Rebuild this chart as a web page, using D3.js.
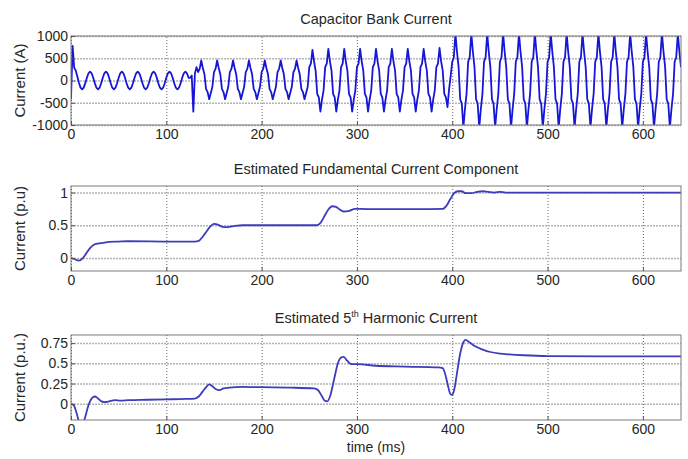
<!DOCTYPE html>
<html><head><meta charset="utf-8">
<script src="https://cdn.jsdelivr.net/npm/d3@7"></script>
<style>
html,body{margin:0;padding:0;background:#fff;}
svg text{font-family:"Liberation Sans",Arial,Helvetica,sans-serif;fill:#262626;}
</style></head><body>
<svg id="chart" width="688" height="459"></svg>
<script>
// ---------------- data ----------------
const xTicks = [0, 100, 200, 300, 400, 500, 600];
const capTicks = [-1000, -500, 0, 500, 1000];
const fundTicks = [0, 0.5, 1];
const harmTicks = [0, 0.25, 0.5, 0.75];

// capacitor bank current (A), one sample every 1/600 s (10 samples per 60 Hz cycle)
const capSampleMs = 1000 / 600;
const capCurrent = [
  -420,780,290,220,90,-50,-160,-200,-160,-60,
  62,162,200,162,62,-62,-162,-200,-162,-62,
  62,162,200,162,62,-62,-162,-200,-162,-62,
  62,162,200,162,62,-62,-162,-200,-162,-62,
  62,162,200,162,62,-62,-162,-200,-162,-62,
  62,162,200,162,62,-62,-162,-200,-162,-62,
  62,162,200,162,62,-62,-162,-200,-162,-62,
  62,162,200,162,62,60,110,-700,160,300,
  190,260,450,280,140,-190,-260,-420,-280,-140,
  190,260,450,280,140,-190,-260,-420,-280,-140,
  190,260,450,280,140,-190,-260,-420,-280,-140,
  190,260,450,280,140,-190,-260,-420,-280,-140,
  190,260,450,280,140,-190,-260,-420,-280,-140,
  190,260,450,280,140,-190,-260,-420,-280,-140,
  190,260,450,280,140,-190,-260,-420,-280,-140,
  300,380,690,430,220,-300,-380,-700,-430,-220,
  300,380,710,430,220,-300,-380,-700,-430,-220,
  300,380,710,430,220,-300,-380,-700,-430,-220,
  300,380,710,430,220,-300,-380,-700,-430,-220,
  300,380,710,430,220,-300,-380,-700,-430,-220,
  300,380,710,430,220,-300,-380,-700,-430,-220,
  300,380,710,430,220,-300,-380,-700,-430,-220,
  300,380,710,430,220,-300,-380,-700,-430,-220,
  300,380,730,430,220,-300,-380,-600,-200,100,
  420,520,1060,640,300,-420,-520,-1060,-640,-300,
  420,520,1060,640,300,-420,-520,-1060,-640,-300,
  420,520,1060,640,300,-420,-520,-1060,-640,-300,
  420,520,1060,640,300,-420,-520,-1060,-640,-300,
  420,520,1060,640,300,-420,-520,-1060,-640,-300,
  420,520,1060,640,300,-420,-520,-1060,-640,-300,
  420,520,1060,640,300,-420,-520,-1060,-640,-300,
  420,520,1060,640,300,-420,-520,-1060,-640,-300,
  420,520,1060,640,300,-420,-520,-1060,-640,-300,
  420,520,1060,640,300,-420,-520,-1060,-640,-300,
  420,520,1060,640,300,-420,-520,-1060,-640,-300,
  420,520,1060,640,300,-420,-520,-1060,-640,-300,
  420,520,1060,640,300,-420,-520,-1060,-640,-300,
  420,520,1060,640,300,-420,-520,-1060,-640,-300,
  420,520,1060,640,300
];

// estimated fundamental current component (p.u.)
const fundTime = [0,4,8,12,16,20,24,28,34,40,50,60,100,130,134,138,142,146,150,154,
  158,164,172,180,220,258,262,266,270,274,278,282,286,292,298,304,320,360,390,394,
  398,402,406,410,414,420,426,432,438,444,450,456,500,560,640];
const fundValue = [0,-0.02,-0.04,-0.01,0.07,0.15,0.2,0.22,0.23,0.245,0.25,0.255,0.25,0.25,0.26,0.32,0.4,0.48,0.52,0.51,
  0.48,0.47,0.49,0.5,0.5,0.5,0.54,0.64,0.74,0.79,0.78,0.74,0.71,0.72,0.75,0.75,0.745,0.745,0.75,0.8,
  0.9,0.99,1.02,1.02,0.99,0.99,1.01,1.02,1.01,1.0,1.01,1.0,1.0,1.0,1.0];

// estimated 5th harmonic current (p.u.)
const harmTime = [0,3,6,9,12,15,18,22,25,28,32,36,40,46,52,60,80,100,120,130,
  134,138,142,145,148,152,156,160,166,180,200,230,255,259,263,266,269,272,276,280,
  283,286,290,294,300,320,350,385,390,393,396,398,400,402,405,408,411,414,418,424,
  432,440,450,460,475,500,560,640];
const harmValue = [0,-0.02,-0.12,-0.24,-0.26,-0.16,-0.03,0.07,0.09,0.07,0.03,0.02,0.03,0.045,0.04,0.045,0.05,0.055,0.06,0.065,
  0.09,0.15,0.21,0.24,0.22,0.18,0.17,0.19,0.2,0.21,0.205,0.2,0.19,0.17,0.1,0.04,0.03,0.1,0.3,0.5,
  0.57,0.58,0.53,0.49,0.49,0.47,0.46,0.45,0.44,0.35,0.2,0.12,0.11,0.17,0.38,0.6,0.74,0.79,0.76,0.71,
  0.67,0.64,0.62,0.61,0.6,0.59,0.585,0.585];

// ---------------- drawing ----------------
const svg = d3.select('#chart');
const left = 71, right = 681;
const x = d3.scaleLinear().domain([0, 640]).range([left, right]);

function panel(opt) {
  const y = d3.scaleLinear().domain(opt.yDomain).range([opt.bottom, opt.top]);
  const g = svg.append('g');
  const clipId = 'clip' + opt.id;
  g.append('clipPath').attr('id', clipId).append('rect')
    .attr('x', left).attr('y', opt.top).attr('width', right - left).attr('height', opt.bottom - opt.top);

  // grid
  const gx = g.append('g').attr('transform', `translate(0,${opt.bottom})`)
    .call(d3.axisBottom(x).tickValues(xTicks).tickSize(-(opt.bottom - opt.top)).tickFormat(''));
  const gy = g.append('g').attr('transform', `translate(${left},0)`)
    .call(d3.axisLeft(y).tickValues(opt.yTicks).tickSize(-(right - left)).tickFormat(''));
  gx.select('.domain').remove();
  gy.select('.domain').remove();
  gx.selectAll('line').attr('stroke', '#666').attr('stroke-dasharray', '1,2').attr('stroke-width', 1);
  gy.selectAll('line').attr('stroke', '#b4b4b4').attr('stroke-dasharray', '2,1').attr('stroke-width', 1.5);

  // data line
  g.append('path').attr('clip-path', `url(#${clipId})`)
    .datum(opt.data)
    .attr('fill', 'none')
    .attr('stroke', opt.color)
    .attr('stroke-width', opt.width)
    .attr('stroke-linejoin', 'round')
    .attr('d', d3.line().x(d => x(d[0])).y(d => y(d[1])).curve(opt.curve));

  // box
  g.append('rect').attr('x', left).attr('y', opt.top).attr('width', right - left).attr('height', opt.bottom - opt.top)
    .attr('fill', 'none').attr('stroke', '#7a7a7a').attr('stroke-width', 1);

  // tick labels
  const ax = g.append('g').attr('transform', `translate(0,${opt.bottom})`)
    .call(d3.axisBottom(x).tickValues(xTicks).tickSizeInner(-4).tickSizeOuter(0).tickPadding(4).tickFormat(d => String(d)));
  const ay = g.append('g').attr('transform', `translate(${left},0)`)
    .call(d3.axisLeft(y).tickValues(opt.yTicks).tickSizeInner(-4).tickSizeOuter(0).tickPadding(3).tickFormat(d => String(d)));
  [ax, ay].forEach(s => {
    s.select('.domain').remove();
    s.selectAll('line').attr('stroke', '#555');
    s.selectAll('text').attr('font-size', 14).attr('fill', '#262626')
      .attr('font-family', '"Liberation Sans",Arial,Helvetica,sans-serif');
  });

  // title
  const t = svg.append('text').attr('x', (left + right) / 2).attr('y', opt.top - 12)
    .attr('text-anchor', 'middle').attr('font-size', 14.5);
  opt.title.forEach(part => {
    const ts = t.append('tspan').text(part.text);
    if (part.sup) ts.attr('font-size', 9).attr('dy', -6);
    else if (part.after) ts.attr('dy', 6);
  });

  // y label
  svg.append('text').attr('transform', `translate(25,${(opt.top + opt.bottom) / 2}) rotate(-90)`)
    .attr('text-anchor', 'middle').attr('font-size', 15).text(opt.ylabel);
}

panel({
  id: 1, top: 36, bottom: 125, yDomain: [-1000, 1000], yTicks: capTicks,
  data: capCurrent.map((v, i) => [i * capSampleMs, v]),
  color: '#1616d6', width: 1.8, curve: d3.curveLinear,
  title: [{text: 'Capacitor Bank Current'}], ylabel: 'Current (A)'
});
panel({
  id: 2, top: 186, bottom: 271, yDomain: [-0.2, 1.1], yTicks: fundTicks,
  data: fundTime.map((t, i) => [t, fundValue[i]]),
  color: '#3c3cbc', width: 1.8, curve: d3.curveMonotoneX,
  title: [{text: 'Estimated Fundamental Current Component'}], ylabel: 'Current (p.u)'
});
panel({
  id: 3, top: 335, bottom: 420, yDomain: [-0.2, 0.85], yTicks: harmTicks,
  data: harmTime.map((t, i) => [t, harmValue[i]]),
  color: '#3c3cbc', width: 1.8, curve: d3.curveMonotoneX,
  title: [{text: 'Estimated 5'}, {text: 'th', sup: true}, {text: ' Harmonic Current', after: true}],
  ylabel: 'Current (p.u.)'
});

svg.append('text').attr('x', (left + right) / 2).attr('y', 452).attr('text-anchor', 'middle')
  .attr('font-size', 14).text('time (ms)');
</script>
</body></html>
